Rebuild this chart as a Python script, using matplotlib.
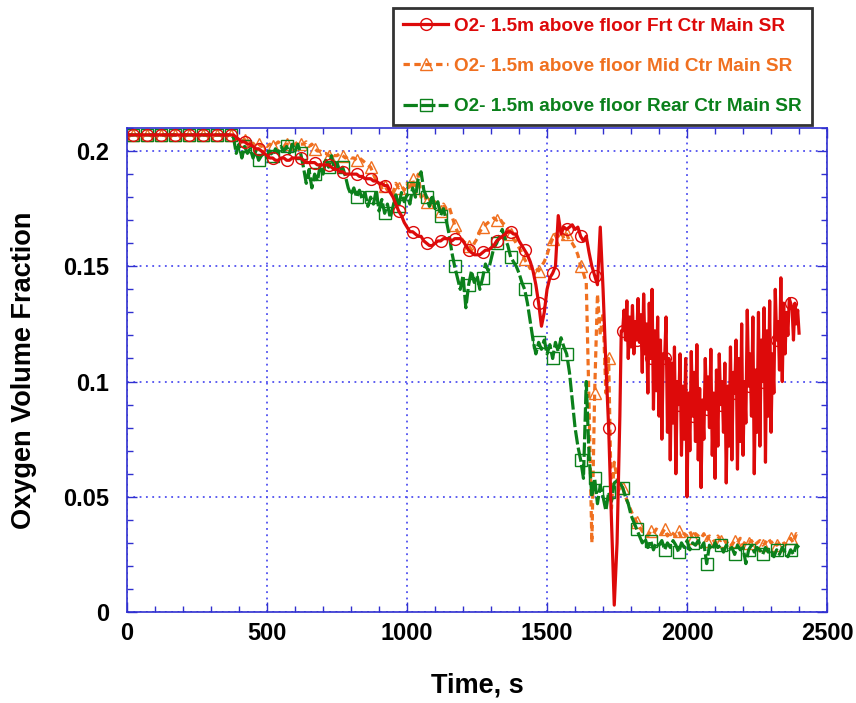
import numpy as np
import matplotlib
matplotlib.use("Agg")
import matplotlib.pyplot as plt
from matplotlib.ticker import MultipleLocator, FuncFormatter

plt.rcParams['font.family'] = ['Liberation Sans', 'DejaVu Sans']
plt.rcParams['font.weight'] = 'bold'

# ======================================================
# Data
# ======================================================

labels = [
    "O2- 1.5m above floor Frt Ctr Main SR",
    "O2- 1.5m above floor Mid Ctr Main SR",
    "O2- 1.5m above floor Rear Ctr Main SR",
]

# sample times, s
time_10s = np.arange(0, 2410, 10)
time_red = np.concatenate([np.arange(0, 1760, 10), np.arange(1760, 2405, 5)])

flat = [0.207] * 38          # 0 .. 370 s, all three probes

red_o2 = flat + [
    # 380 - 470
    0.207, 0.206, 0.205, 0.204, 0.204, 0.203, 0.203, 0.202, 0.201, 0.201,
    # 480 - 570
    0.200, 0.199, 0.198, 0.197, 0.197, 0.196, 0.196, 0.197, 0.197, 0.196,
    # 580 - 670
    0.196, 0.197, 0.197, 0.197, 0.197, 0.196, 0.195, 0.195, 0.195, 0.195,
    # 680 - 770
    0.194, 0.194, 0.194, 0.194, 0.194, 0.193, 0.192, 0.192, 0.191, 0.191,
    # 780 - 870
    0.190, 0.190, 0.190, 0.190, 0.190, 0.189, 0.189, 0.188, 0.188, 0.188,
    # 880 - 970
    0.187, 0.187, 0.186, 0.186, 0.185, 0.185, 0.182, 0.180, 0.177, 0.174,
    # 980 - 1070
    0.172, 0.169, 0.167, 0.165, 0.165, 0.164, 0.163, 0.163, 0.161, 0.160,
    # 1080 - 1170
    0.159, 0.159, 0.160, 0.161, 0.161, 0.162, 0.162, 0.162, 0.161, 0.162,
    # 1180 - 1270
    0.162, 0.162, 0.161, 0.159, 0.157, 0.156, 0.155, 0.155, 0.155, 0.156,
    # 1280 - 1370
    0.157, 0.157, 0.158, 0.159, 0.161, 0.162, 0.163, 0.164, 0.165, 0.165,
    # 1380 - 1470
    0.164, 0.164, 0.161, 0.159, 0.157, 0.155, 0.152, 0.148, 0.142, 0.134,
    # 1480 - 1570
    0.124, 0.130, 0.140, 0.145, 0.147, 0.150, 0.172, 0.164, 0.167, 0.166,
    # 1580 - 1670
    0.167, 0.168, 0.166, 0.167, 0.163, 0.161, 0.163, 0.156, 0.150, 0.146,
    # 1680 - 1750
    0.142, 0.167, 0.140, 0.108, 0.080, 0.040, 0.003, 0.030,
    # 1760 - 2400, 5 s samples
    0.085, 0.122, 0.122, 0.131, 0.118, 0.135, 0.110, 0.128, 0.115, 0.133,
    0.112, 0.126, 0.118, 0.136, 0.117, 0.129, 0.104, 0.138, 0.112, 0.125,
    0.095, 0.134, 0.110, 0.140, 0.088, 0.122, 0.096, 0.128, 0.085, 0.118,
    0.075, 0.112, 0.110, 0.128, 0.078, 0.110, 0.066, 0.108, 0.082, 0.115,
    0.060, 0.100, 0.090, 0.112, 0.068, 0.098, 0.075, 0.110, 0.050, 0.095,
    0.070, 0.113, 0.085, 0.104, 0.074, 0.116, 0.066, 0.097, 0.054, 0.092,
    0.075, 0.110, 0.088, 0.102, 0.080, 0.114, 0.068, 0.095, 0.058, 0.105,
    0.072, 0.112, 0.090, 0.100, 0.078, 0.108, 0.056, 0.098, 0.072, 0.115,
    0.066, 0.104, 0.095, 0.118, 0.062, 0.110, 0.074, 0.125, 0.068, 0.100,
    0.082, 0.131, 0.098, 0.112, 0.085, 0.128, 0.060, 0.105, 0.078, 0.130,
    0.072, 0.118, 0.100, 0.132, 0.065, 0.122, 0.085, 0.135, 0.078, 0.112,
    0.095, 0.140, 0.118, 0.126, 0.105, 0.145, 0.100, 0.134, 0.112, 0.130,
    0.120, 0.136, 0.134, 0.132, 0.118, 0.134, 0.125, 0.131, 0.121,
]

orange_o2 = flat + [
    # 380 - 470
    0.207, 0.205, 0.205, 0.204, 0.205, 0.203, 0.204, 0.203, 0.204, 0.203,
    # 480 - 570
    0.202, 0.203, 0.202, 0.203, 0.202, 0.203, 0.204, 0.203, 0.202, 0.203,
    # 580 - 670
    0.203, 0.202, 0.203, 0.204, 0.203, 0.203, 0.204, 0.202, 0.203, 0.201,
    # 680 - 770
    0.200, 0.200, 0.199, 0.199, 0.198, 0.199, 0.198, 0.198, 0.199, 0.198,
    # 780 - 870
    0.197, 0.198, 0.197, 0.197, 0.196, 0.197, 0.196, 0.195, 0.194, 0.193,
    # 880 - 970
    0.190, 0.187, 0.186, 0.184, 0.185, 0.183, 0.184, 0.182, 0.186, 0.184,
    # 980 - 1070
    0.185, 0.183, 0.186, 0.183, 0.188, 0.181, 0.190, 0.180, 0.182, 0.178,
    # 1080 - 1170
    0.179, 0.176, 0.178, 0.175, 0.174, 0.177, 0.175, 0.176, 0.172, 0.168,
    # 1180 - 1270
    0.165, 0.163, 0.161, 0.160, 0.159, 0.157, 0.160, 0.162, 0.165, 0.167,
    # 1280 - 1370
    0.168, 0.169, 0.170, 0.171, 0.170, 0.171, 0.169, 0.168, 0.166, 0.164,
    # 1380 - 1470
    0.162, 0.160, 0.158, 0.156, 0.153, 0.151, 0.149, 0.150, 0.149, 0.148,
    # 1480 - 1570
    0.150, 0.152, 0.155, 0.159, 0.162, 0.164, 0.163, 0.165, 0.162, 0.164,
    # 1580 - 1670
    0.161, 0.160, 0.158, 0.155, 0.150, 0.147, 0.143, 0.090, 0.030, 0.095,
    # 1680 - 1770
    0.138, 0.120, 0.130, 0.095, 0.110, 0.045, 0.065, 0.058, 0.055, 0.054,
    # 1780 - 1870
    0.050, 0.047, 0.044, 0.041, 0.039, 0.037, 0.035, 0.034, 0.033, 0.035,
    # 1880 - 1970
    0.034, 0.036, 0.035, 0.034, 0.036, 0.033, 0.035, 0.034, 0.033, 0.035,
    # 1980 - 2070
    0.032, 0.034, 0.033, 0.035, 0.032, 0.034, 0.033, 0.032, 0.034, 0.031,
    # 2080 - 2170
    0.033, 0.032, 0.030, 0.033, 0.031, 0.032, 0.030, 0.031, 0.029, 0.031,
    # 2180 - 2270
    0.030, 0.032, 0.029, 0.031, 0.030, 0.031, 0.029, 0.030, 0.031, 0.029,
    # 2280 - 2370
    0.030, 0.032, 0.030, 0.031, 0.029, 0.030, 0.031, 0.029, 0.031, 0.032,
    # 2380 - 2400
    0.030, 0.034, 0.033,
]

green_o2 = flat + [
    # 380 - 470
    0.206, 0.199, 0.203, 0.197, 0.202, 0.199, 0.201, 0.197, 0.200, 0.196,
    # 480 - 570
    0.198, 0.199, 0.197, 0.200, 0.198, 0.201, 0.199, 0.202, 0.200, 0.202,
    # 580 - 670
    0.199, 0.203, 0.200, 0.203, 0.199, 0.193, 0.186, 0.192, 0.184, 0.190,
    # 680 - 770
    0.187, 0.194, 0.190, 0.196, 0.193, 0.198, 0.192, 0.195, 0.191, 0.193,
    # 780 - 870
    0.189, 0.184, 0.181, 0.184, 0.180, 0.183, 0.179, 0.182, 0.176, 0.180,
    # 880 - 970
    0.177, 0.183, 0.174, 0.179, 0.173, 0.177, 0.171, 0.176, 0.181, 0.176,
    # 980 - 1070
    0.182, 0.178, 0.181, 0.177, 0.184, 0.180, 0.188, 0.191, 0.183, 0.180,
    # 1080 - 1170
    0.176, 0.181, 0.175, 0.178, 0.172, 0.175, 0.170, 0.164, 0.156, 0.150,
    # 1180 - 1270
    0.145, 0.140, 0.146, 0.132, 0.142, 0.148, 0.143, 0.146, 0.140, 0.145,
    # 1280 - 1370
    0.151, 0.148, 0.153, 0.158, 0.160, 0.163, 0.166, 0.162, 0.159, 0.154,
    # 1380 - 1470
    0.152, 0.150, 0.147, 0.143, 0.140, 0.134, 0.126, 0.118, 0.112, 0.117,
    # 1480 - 1570
    0.114, 0.118, 0.112, 0.116, 0.110, 0.117, 0.113, 0.119, 0.115, 0.112,
    # 1580 - 1670
    0.104, 0.092, 0.080, 0.072, 0.066, 0.058, 0.100, 0.068, 0.050, 0.058,
    # 1680 - 1770
    0.047, 0.055, 0.050, 0.044, 0.052, 0.048, 0.056, 0.057, 0.056, 0.054,
    # 1780 - 1870
    0.050, 0.047, 0.042, 0.039, 0.036, 0.033, 0.030, 0.032, 0.028, 0.031,
    # 1880 - 1970
    0.027, 0.030, 0.029, 0.031, 0.027, 0.030, 0.028, 0.031, 0.029, 0.026,
    # 1980 - 2070
    0.030, 0.028, 0.031, 0.027, 0.030, 0.029, 0.031, 0.028, 0.030, 0.021,
    # 2080 - 2170
    0.029, 0.027, 0.030, 0.028, 0.029, 0.026, 0.029, 0.027, 0.028, 0.025,
    # 2180 - 2270
    0.029, 0.027, 0.028, 0.021, 0.027, 0.029, 0.026, 0.028, 0.027, 0.025,
    # 2280 - 2370
    0.028, 0.026, 0.027, 0.024, 0.027, 0.025, 0.028, 0.026, 0.024, 0.027,
    # 2380 - 2400
    0.025, 0.029, 0.028,
]

colors = ["#DD0A0A", "#F07020", "#0B801B"]


def marker_idx(t):
    # a symbol every 50 s, starting at 20 s
    return list(np.where((t - 20) % 50 == 0)[0])


# ======================================================
# Figure
# ======================================================

fig = plt.figure(figsize=(8.56, 7.03), dpi=100)
ax = fig.add_axes([0.1484, 0.1294, 0.8178, 0.6885])

lw = 2.3

hOrange, = ax.plot(time_10s, orange_o2, color=colors[1], lw=lw,
                   linestyle=(0, (2.0, 1.4)),
                   marker="^", markersize=8, markerfacecolor="none",
                   markeredgewidth=1.0, markevery=marker_idx(time_10s),
                   label=labels[1])
hGreen, = ax.plot(time_10s, green_o2, color=colors[2], lw=lw,
                  linestyle=(0, (4.5, 1.0)),
                  marker="s", markersize=8.5, markerfacecolor="none",
                  markeredgewidth=1.0, markevery=marker_idx(time_10s),
                  label=labels[2])
hRed, = ax.plot(time_red, red_o2, color=colors[0], lw=lw,
                linestyle="-",
                marker="o", markersize=8.5, markerfacecolor="none",
                markeredgewidth=1.0, markevery=marker_idx(time_red),
                label=labels[0])

ax.set_xlim(0, 2500)
ax.set_ylim(0, 0.21)

ax.xaxis.set_major_locator(MultipleLocator(500))
ax.xaxis.set_minor_locator(MultipleLocator(100))
ax.yaxis.set_major_locator(MultipleLocator(0.05))
ax.yaxis.set_minor_locator(MultipleLocator(0.01))
ax.yaxis.set_major_formatter(FuncFormatter(lambda v, p: f"{v:g}"))

spineColor = "#3030D0"
for s in ax.spines.values():
    s.set_color(spineColor)
    s.set_linewidth(1.2)

ax.tick_params(which="both", direction="in", top=True, right=True,
               color=spineColor, labelsize=17)
ax.tick_params(axis="x", which="major", pad=7)
ax.tick_params(axis="y", which="major", pad=13)
ax.tick_params(which="major", length=7, width=1)
ax.tick_params(which="minor", length=4, width=1)

ax.grid(True, which="major", color="#5050F0", linestyle=(0, (1, 2.5)), lw=1.3)
ax.set_axisbelow(True)

ax.set_xlabel("Time, s", fontsize=19.5, fontweight="bold", labelpad=20)
ax.set_ylabel("Oxygen Volume Fraction", fontsize=19.5, fontweight="bold",
              labelpad=19)

leg = fig.legend(handles=[hRed, hOrange, hGreen], loc="lower left",
                 bbox_to_anchor=(0.459, 0.822), borderaxespad=0,
                 fontsize=13.7, frameon=True, fancybox=False,
                 handlelength=2.4, labelspacing=1.2, borderpad=0.52,
                 handletextpad=0.3)
leg.get_frame().set_edgecolor("black")
leg.get_frame().set_linewidth(2)
for txt, c in zip(leg.get_texts(), colors):
    txt.set_color(c)
    txt.set_fontweight("bold")

fig.savefig("out.png", dpi=100)
